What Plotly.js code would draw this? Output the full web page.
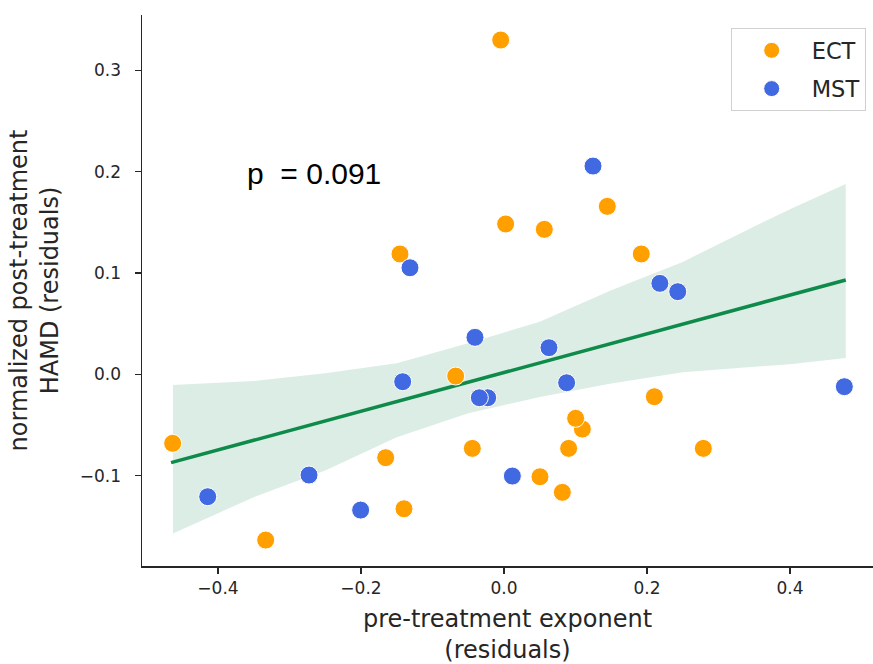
<!DOCTYPE html>
<html>
<head>
<meta charset="utf-8">
<script src="https://cdn.plot.ly/plotly-3.0.1.min.js"></script>
<style>html,body{margin:0;padding:0;background:#fff;overflow:hidden;}</style>
</head>
<body>
<div id="chart" style="width:873px;height:664px;"></div>
<script>
// ECT group (orange)
const ectX = [-0.4634, -0.3333, -0.1655, -0.1399, -0.1455, -0.0676, -0.0443, -0.0046, 0.0023, 0.0503, 0.0564, 0.0816, 0.0904, 0.1096, 0.1002, 0.1445, 0.192, 0.2103, 0.2788];
const ectY = [-0.0681, -0.1636, -0.0823, -0.1327, 0.1188, -0.0017, -0.0731, 0.330, 0.1484, -0.1011, 0.1431, -0.1165, -0.0731, -0.054, -0.0434, 0.1658, 0.1188, -0.0221, -0.0731];
// MST group (blue)
const mstX = [-0.4144, -0.2727, -0.2005, -0.1417, -0.1315, -0.0406, -0.0228, -0.0345, 0.0117, 0.0629, 0.0876, 0.1245, 0.218, 0.243, 0.476];
const mstY = [-0.1208, -0.0994, -0.134, -0.0073, 0.1052, 0.0365, -0.0231, -0.0231, -0.1004, 0.0263, -0.0083, 0.2056, 0.0898, 0.0816, -0.0122];
// regression line and confidence band
const fitX = [-0.4657, 0.478];
const fitY = [-0.0872, 0.0931];
const bandX = [-0.463, -0.35, -0.25, -0.15, -0.05, 0.05, 0.15, 0.25, 0.35, 0.40, 0.478];
const bandUpper = [-0.0106, -0.0065, 0.001, 0.011, 0.0306, 0.052, 0.083, 0.111, 0.146, 0.163, 0.188];
const bandLower = [-0.157, -0.1213, -0.095, -0.062, -0.0385, -0.0225, -0.009, 0.002, 0.0075, 0.010, 0.016];
const groupNames = ["ECT", "MST"];
const annotationText = "p  = 0.091";
const xTitle = "pre-treatment exponent<br>(residuals)";
const yTitle = "normalized post-treatment<br>HAMD (residuals)";

const traces = [
  {x: bandX, y: bandLower, mode: "lines", line: {width: 0, color: "rgba(0,0,0,0)"}, showlegend: false, hoverinfo: "skip"},
  {x: bandX, y: bandUpper, mode: "lines", line: {width: 0, color: "rgba(0,0,0,0)"}, fill: "tonexty", fillcolor: "rgba(15,137,74,0.15)", showlegend: false, hoverinfo: "skip"},
  {x: fitX, y: fitY, mode: "lines", line: {color: "#0e8a4a", width: 3.5}, showlegend: false},
  {x: ectX, y: ectY, mode: "markers", name: groupNames[0], legendgroup: "a",
   marker: {color: "#ffa000", size: 18, line: {color: "#ffffff", width: 1}}},
  {x: mstX, y: mstY, mode: "markers", name: groupNames[1], legendgroup: "b",
   marker: {color: "#4169e1", size: 18, line: {color: "#ffffff", width: 1}}}
];

const axisFont = {family: "DejaVu Sans", size: 17, color: "#262626"};
const titleFont = {family: "DejaVu Sans", size: 24, color: "#262626"};
const layout = {
  width: 873, height: 664,
  margin: {l: 142, r: 0, t: 15, b: 98, pad: 0},
  paper_bgcolor: "#ffffff", plot_bgcolor: "#ffffff",
  showlegend: true,
  xaxis: {
    range: [-0.5063, 0.5161], tickvals: [-0.4, -0.2, 0, 0.2, 0.4], ticktext: ["−0.4", "−0.2", "0.0", "0.2", "0.4"],
    showgrid: false, zeroline: false, showline: true, linecolor: "#262626", linewidth: 1.5,
    ticks: "outside", ticklen: 6, tickwidth: 1.5, tickcolor: "#262626", tickfont: axisFont,
    title: {text: xTitle, font: titleFont, standoff: 14}
  },
  yaxis: {
    range: [-0.1892, 0.3547], tickvals: [-0.1, 0, 0.1, 0.2, 0.3], ticktext: ["−0.1", "0.0", "0.1", "0.2", "0.3"],
    showgrid: false, zeroline: false, showline: true, linecolor: "#262626", linewidth: 1.5,
    ticks: "outside", ticklen: 6, tickwidth: 1.5, tickcolor: "#262626", tickfont: axisFont,
    ticklabelstandoff: 10,
    title: {text: yTitle, font: titleFont, standoff: 14}
  },
  legend: {
    x: 0.990, y: 0.976, xanchor: "right", yanchor: "top",
    bgcolor: "#ffffff", bordercolor: "#d0d0d0", borderwidth: 1,
    font: {family: "DejaVu Sans", size: 22.5, color: "#262626"},
    itemwidth: 70, traceorder: "grouped", tracegroupgap: 6
  },
  annotations: [{
    x: -0.2657, y: 0.1987, xref: "x", yref: "y", text: annotationText, showarrow: false,
    font: {family: "Liberation Sans", size: 30, color: "#000000"}, xanchor: "center", yanchor: "middle"
  }]
};

Plotly.newPlot("chart", traces, layout, {displayModeBar: false, staticPlot: true});
</script>
</body>
</html>
